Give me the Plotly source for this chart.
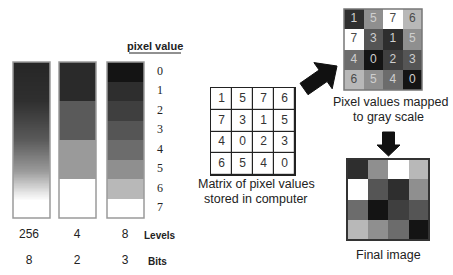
import numpy as np
import plotly.graph_objects as go

# ---------------- data ----------------
levels = [256, 4, 8]
bits = [8, 2, 3]
pixel_values = list(range(8))
grad_values = list(range(256))
four_values = [0, 1, 2, 3]
matrix = [
    [1, 5, 7, 6],
    [7, 3, 1, 5],
    [4, 0, 2, 3],
    [6, 5, 4, 0],
]

# ---------------- style ----------------
W, H = 453, 275
pal8 = ["#141414", "#2e2e2e", "#3f3f3f", "#555555", "#6c6c6c", "#8f8f8f", "#b8b8b8", "#ffffff"]
pal4 = ["#2a2a2a", "#5a5a5a", "#9a9a9a", "#ffffff"]
SANS = "Liberation Sans, Arial, sans-serif"
SERIF = "Liberation Serif, Times New Roman, serif"


def discrete_scale(colors):
    n = len(colors)
    cs = []
    for i, c in enumerate(colors):
        cs.append([i / n, c])
        cs.append([(i + 1) / n, c])
    return cs


fig = go.Figure()
shapes = []
annotations = []

# ---- left bars ----
bar_top, bar_bot = 62, 218
bars_x = [(13, 50), (59, 96), (107, 144)]

# 256 level gradient
x0, x1 = bars_x[0]
fig.add_trace(go.Heatmap(
    z=[[v] for v in grad_values],
    x=[x0, x1], y=list(np.linspace(bar_top, bar_bot, len(grad_values) + 1)),
    zmin=0, zmax=255, showscale=False, hoverinfo="skip",
    colorscale=[[0, "#262626"], [0.25, "#2f2f2f"], [0.5, "#5a5a5a"], [0.7, "#9a9a9a"],
                [0.84, "#e6e6e6"], [0.89, "#ffffff"], [1, "#ffffff"]],
))
# 4 levels
x0, x1 = bars_x[1]
fig.add_trace(go.Heatmap(
    z=[[v] for v in four_values],
    x=[x0, x1], y=list(np.linspace(bar_top, bar_bot, len(four_values) + 1)),
    zmin=-0.5, zmax=3.5, showscale=False, hoverinfo="skip",
    colorscale=discrete_scale(pal4),
))
# 8 levels
x0, x1 = bars_x[2]
fig.add_trace(go.Heatmap(
    z=[[v] for v in pixel_values],
    x=[x0, x1], y=list(np.linspace(bar_top, bar_bot, len(pixel_values) + 1)),
    zmin=-0.5, zmax=7.5, showscale=False, hoverinfo="skip",
    colorscale=discrete_scale(pal8),
))
for (a, b) in bars_x:
    shapes.append(dict(type="rect", x0=a, x1=b, y0=bar_top, y1=bar_bot,
                       line=dict(color="#9a9a9a", width=1.5), layer="above"))

# pixel value labels
band = (bar_bot - bar_top) / len(pixel_values)
fig.add_trace(go.Scatter(
    x=[160] * len(pixel_values),
    y=[bar_top + (i + 0.5) * band for i in range(len(pixel_values))],
    text=[str(v) for v in pixel_values], mode="text",
    textfont=dict(family=SERIF, size=12, color="#222"), hoverinfo="skip", showlegend=False,
))
annotations.append(dict(x=155, y=46, text="<b>pixel value</b>", showarrow=False,
                        font=dict(family=SANS, size=11, color="#222")))
shapes.append(dict(type="line", x0=129, x1=181, y0=53, y1=53, line=dict(color="#222", width=1)))

# levels / bits
col_x = [29, 77, 125]
fig.add_trace(go.Scatter(x=col_x, y=[235] * 3, text=[str(v) for v in levels], mode="text",
                         textfont=dict(family=SANS, size=12, color="#222"), hoverinfo="skip",
                         showlegend=False))
fig.add_trace(go.Scatter(x=col_x, y=[261] * 3, text=[str(v) for v in bits], mode="text",
                         textfont=dict(family=SANS, size=12, color="#222"), hoverinfo="skip",
                         showlegend=False))
annotations.append(dict(x=160, y=235, text="<b>Levels</b>", showarrow=False,
                        font=dict(family=SANS, size=10, color="#222")))
annotations.append(dict(x=157, y=261, text="<b>Bits</b>", showarrow=False,
                        font=dict(family=SANS, size=10, color="#222")))

n = len(matrix)


def cell_centers(box):
    bx0, by0, bx1, by1 = box
    cw, ch = (bx1 - bx0) / n, (by1 - by0) / n
    xs, ys = [], []
    for i in range(n):
        for j in range(n):
            xs.append(bx0 + (j + 0.5) * cw)
            ys.append(by0 + (i + 0.5) * ch)
    return xs, ys


# ---- matrix of pixel values ----
mbox = (211, 88, 295, 175)
shapes.append(dict(type="rect", x0=mbox[0] - 1, x1=mbox[2] + 1, y0=mbox[1] - 1, y1=mbox[3] + 1,
                   fillcolor="#222", line=dict(width=0), layer="below"))
fig.add_trace(go.Heatmap(
    z=matrix, x=list(np.linspace(mbox[0], mbox[2], n + 1)), y=list(np.linspace(mbox[1], mbox[3], n + 1)),
    colorscale=[[0, "#ffffff"], [1, "#ffffff"]], showscale=False, xgap=1.2, ygap=1.2, hoverinfo="skip",
))
xs, ys = cell_centers(mbox)
fig.add_trace(go.Scatter(x=xs, y=ys, text=[str(v) for row in matrix for v in row], mode="text",
                         textfont=dict(family=SANS, size=12, color="#333"), hoverinfo="skip",
                         showlegend=False))
annotations.append(dict(x=256, y=184, text="Matrix of pixel values", showarrow=False,
                        font=dict(family=SANS, size=12.5, color="#222")))
annotations.append(dict(x=256, y=199, text="stored in computer", showarrow=False,
                        font=dict(family=SANS, size=12.5, color="#222")))

# ---- gray scale mapped matrix ----
gbox = (344, 9, 422, 90)
fig.add_trace(go.Heatmap(
    z=matrix, x=list(np.linspace(gbox[0], gbox[2], n + 1)), y=list(np.linspace(gbox[1], gbox[3], n + 1)),
    zmin=-0.5, zmax=7.5, colorscale=discrete_scale(pal8), showscale=False, hoverinfo="skip",
))
shapes.append(dict(type="rect", x0=gbox[0], x1=gbox[2], y0=gbox[1], y1=gbox[3],
                   line=dict(color="#777", width=1.5), layer="above"))
xs, ys = cell_centers(gbox)
flat = [v for row in matrix for v in row]
fig.add_trace(go.Scatter(x=xs, y=ys, text=[str(v) for v in flat], mode="text",
                         textfont=dict(family=SANS, size=12,
                                       color=["#4a4a4a" if v >= 6 else "#cfcfcf" for v in flat]),
                         hoverinfo="skip", showlegend=False))
annotations.append(dict(x=390, y=102, text="Pixel values mapped", showarrow=False,
                        font=dict(family=SANS, size=12.5, color="#222")))
annotations.append(dict(x=388, y=117, text="to gray scale", showarrow=False,
                        font=dict(family=SANS, size=12.5, color="#222")))

# ---- final image ----
fbox = (347, 159, 429, 240)
fig.add_trace(go.Heatmap(
    z=matrix, x=list(np.linspace(fbox[0], fbox[2], n + 1)), y=list(np.linspace(fbox[1], fbox[3], n + 1)),
    zmin=-0.5, zmax=7.5, colorscale=discrete_scale(pal8), showscale=False, hoverinfo="skip",
))
shapes.append(dict(type="rect", x0=fbox[0], x1=fbox[2], y0=fbox[1], y1=fbox[3],
                   line=dict(color="#333", width=2), layer="above"))
annotations.append(dict(x=388, y=255, text="Final image", showarrow=False,
                        font=dict(family=SANS, size=12.5, color="#222")))


# ---- arrows ----
def arrow_path(tail, tip, shaft_w, head_len, head_w):
    tx, ty = tail
    px, py = tip
    d = np.array([px - tx, py - ty], dtype=float)
    L = np.hypot(*d)
    u = d / L
    nrm = np.array([-u[1], u[0]])
    t = np.array(tail, dtype=float)
    base = t + u * (L - head_len)
    pts = [t + nrm * shaft_w / 2, base + nrm * shaft_w / 2, base + nrm * head_w / 2,
           np.array(tip, dtype=float), base - nrm * head_w / 2, base - nrm * shaft_w / 2,
           t - nrm * shaft_w / 2]
    return "M " + " L ".join(f"{p[0]:.1f},{p[1]:.1f}" for p in pts) + " Z"


shapes.append(dict(type="path", path=arrow_path((304, 89), (337, 66), 14, 17, 32),
                   fillcolor="#111", line=dict(color="#111", width=1)))
shapes.append(dict(type="path", path=arrow_path((388.5, 132), (388.5, 156), 12, 11, 23),
                   fillcolor="#111", line=dict(color="#111", width=1)))

fig.update_layout(
    width=W, height=H, margin=dict(l=0, r=0, t=0, b=0),
    paper_bgcolor="white", plot_bgcolor="white", showlegend=False,
    xaxis=dict(range=[0, W], visible=False, fixedrange=True),
    yaxis=dict(range=[H, 0], visible=False, fixedrange=True),
    shapes=shapes, annotations=annotations,
)
fig.write_html("out.html", config={"displayModeBar": False},
               post_script="document.body.style.margin='0';document.body.style.padding='0';")
